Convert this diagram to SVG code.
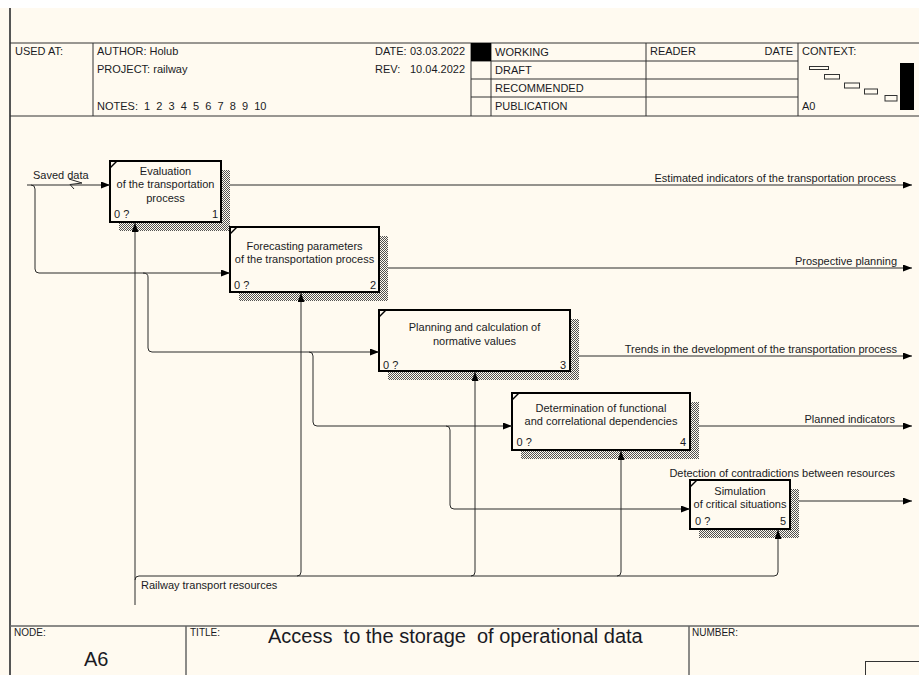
<svg xmlns="http://www.w3.org/2000/svg" width="919" height="675" viewBox="0 0 919 675">
<style>
text{font-family:"Liberation Sans",Arial,sans-serif;font-size:11px;fill:#1a1a24}
.fr{stroke:#333;stroke-width:1;fill:none}
.fg{stroke:#666;stroke-width:1.5;fill:none}
.box{fill:#FFFAF0;stroke:#000;stroke-width:2}
.tick{stroke:#000;stroke-width:1.5}
.sh{fill:url(#hatch)}
.c{stroke:#2a2a2a;stroke-width:1;fill:none}
.ca{stroke:#2a2a2a;stroke-width:1;fill:none;marker-end:url(#ah)}
.mid{text-anchor:middle}
.end{text-anchor:end}
.sm{font-size:10px}
</style>
<defs>
<pattern id="hatch" width="2" height="2" patternUnits="userSpaceOnUse">
<rect width="2" height="2" fill="#FFFAF0"/>
<rect width="1" height="1" fill="#505050"/>
<rect x="1" y="1" width="1" height="1" fill="#505050"/>
</pattern>
<marker id="ah" viewBox="0 0 9 7" refX="9" refY="3.5" markerWidth="9" markerHeight="7" markerUnits="userSpaceOnUse" orient="auto">
<path d="M0,0 L9,3.5 L0,7 z" fill="#000"/>
</marker>
</defs>
<rect width="919" height="675" fill="#FFFAF0"/>
<rect width="919" height="8" fill="#FFFFFF"/>
<line x1="10" y1="8" x2="10" y2="675" stroke="#555" stroke-width="2"/>

<g id="header">
<line class="fr" x1="10" y1="43" x2="919" y2="43"/>
<line class="fr" x1="10" y1="116" x2="919" y2="116"/>
<line class="fr" x1="93" y1="43" x2="93" y2="116"/>
<line class="fr" x1="471" y1="43" x2="471" y2="116"/>
<line class="fr" x1="491" y1="43" x2="491" y2="116"/>
<line class="fr" x1="646" y1="43" x2="646" y2="116"/>
<line class="fr" x1="798" y1="43" x2="798" y2="116"/>
<line class="fr" x1="471" y1="61" x2="798" y2="61"/>
<line class="fr" x1="471" y1="79" x2="798" y2="79"/>
<line class="fr" x1="471" y1="97" x2="798" y2="97"/>
<rect x="471" y="43" width="20" height="18" fill="#000"/>
<text x="15" y="55">USED AT:</text>
<text x="97" y="55">AUTHOR: Holub</text>
<text x="97" y="73">PROJECT: railway</text>
<text x="97" y="110" xml:space="preserve">NOTES:  1  2  3  4  5  6  7  8  9  10</text>
<text x="375" y="55">DATE:</text>
<text x="410" y="55">03.03.2022</text>
<text x="375" y="73">REV:</text>
<text x="410" y="73">10.04.2022</text>
<text x="495" y="56">WORKING</text>
<text x="495" y="74">DRAFT</text>
<text x="495" y="92">RECOMMENDED</text>
<text x="495" y="110">PUBLICATION</text>
<text x="650" y="55">READER</text>
<text x="793" y="55" class="end">DATE</text>
<text x="802" y="55">CONTEXT:</text>
<text x="802" y="110">A0</text>
<g fill="none" stroke="#333" stroke-width="1">
<rect x="809.5" y="66.5" width="19" height="3"/>
<rect x="824.5" y="74.5" width="15" height="4.5"/>
<rect x="844.5" y="83" width="15" height="5"/>
<rect x="864.5" y="89" width="13" height="5"/>
<rect x="885" y="95.5" width="12" height="5.5"/>
</g>
<rect x="900" y="63" width="14" height="47" fill="#000"/>
</g>

<g id="footer">
<line class="fg" x1="10" y1="626" x2="919" y2="626"/>
<line class="fg" x1="186" y1="626" x2="186" y2="675"/>
<line class="fg" x1="689" y1="626" x2="689" y2="675"/>
<text x="14" y="636" class="sm">NODE:</text>
<text x="84" y="666" style="font-size:20px">A6</text>
<text x="190" y="636" class="sm">TITLE:</text>
<text x="268" y="643" style="font-size:20px" xml:space="preserve">Access  to the storage  of operational data</text>
<text x="692" y="636" class="sm">NUMBER:</text>
<rect x="865.5" y="661.5" width="60" height="20" fill="none" stroke="#333" stroke-width="1"/>
</g>

<g id="box1">
<rect class="sh" x="119" y="170" width="111" height="61"/>
<rect class="box" x="110" y="161" width="111" height="61"/>
<line class="tick" x1="110" y1="168" x2="117" y2="161"/>
<text x="165.5" y="175" class="mid">Evaluation</text>
<text x="165.5" y="188" class="mid">of the transportation</text>
<text x="165.5" y="201.5" class="mid">process</text>
<text x="114" y="218">0 ?</text>
<text x="218" y="218" class="end">1</text>
</g>

<g id="box2">
<rect class="sh" x="239" y="236" width="149" height="65"/>
<rect class="box" x="230" y="227" width="149" height="65"/>
<line class="tick" x1="230" y1="234" x2="237" y2="227"/>
<text x="304.5" y="250" class="mid">Forecasting parameters</text>
<text x="304.5" y="263" class="mid">of the transportation process</text>
<text x="234" y="288.5">0 ?</text>
<text x="376" y="288.5" class="end">2</text>
</g>

<g id="box3">
<rect class="sh" x="388" y="319" width="191" height="61"/>
<rect class="box" x="379" y="310" width="191" height="61"/>
<line class="tick" x1="379" y1="317" x2="386" y2="310"/>
<text x="474.5" y="331" class="mid">Planning and calculation of</text>
<text x="474.5" y="344.5" class="mid">normative values</text>
<text x="383" y="369">0 ?</text>
<text x="566" y="369" class="end">3</text>
</g>

<g id="box4">
<rect class="sh" x="521" y="402" width="178" height="57"/>
<rect class="box" x="512" y="393" width="178" height="57"/>
<line class="tick" x1="512" y1="400" x2="519" y2="393"/>
<text x="601" y="411.5" class="mid">Determination of functional</text>
<text x="601" y="425" class="mid">and correlational dependencies</text>
<text x="516.5" y="446">0 ?</text>
<text x="686" y="446" class="end">4</text>
</g>

<g id="box5">
<rect class="sh" x="699" y="489" width="100" height="49"/>
<rect class="box" x="690" y="480" width="100" height="49"/>
<line class="tick" x1="690" y1="487" x2="697" y2="480"/>
<text x="740" y="494.5" class="mid">Simulation</text>
<text x="740" y="508" class="mid">of critical situations</text>
<text x="695" y="525">0 ?</text>
<text x="786" y="525" class="end">5</text>
</g>

<g id="connectors">
<path class="ca" d="M27,185 L110,185"/>
<polyline class="c" points="69,179 82,183 70,184.5 74,189"/>
<path class="ca" d="M31,185 Q35,185 35,189 L35,269 Q35,273 39,273 L230,273"/>
<path class="ca" d="M143,273 Q148,273 148,277 L148,348 Q148,352 152,352 L379,352"/>
<path class="ca" d="M309,352 Q313,352 313,356 L313,422 Q313,426 317,426 L512,426"/>
<path class="ca" d="M446,426 Q450,426 450,430 L450,505 Q450,509 454,509 L690,509"/>
<path class="ca" d="M230,185 L912,185"/>
<path class="ca" d="M388,268 L912,268"/>
<path class="ca" d="M579,356 L912,356"/>
<path class="ca" d="M699,426 L912,426"/>
<path class="ca" d="M799,501 L912,501"/>
<path class="ca" d="M135,605 L135,223"/>
<path class="ca" d="M135,580 Q135,576 139,576 L774,576 Q778,576 778,572 L778,530"/>
<path class="ca" d="M297,576 Q301,576 301,572 L301,293"/>
<path class="ca" d="M471,576 Q475,576 475,572 L475,372"/>
<path class="ca" d="M617,576 Q621,576 621,572 L621,451"/>
<text x="33" y="179">Saved data</text>
<text x="896" y="182" class="end">Estimated indicators of the transportation process</text>
<text x="897" y="265" class="end">Prospective planning</text>
<text x="897" y="353" class="end">Trends in the development of the transportation process</text>
<text x="895" y="423" class="end">Planned indicators</text>
<text x="895" y="477" class="end">Detection of contradictions between resources</text>
<text x="141" y="589">Railway transport resources</text>
</g>
</svg>
